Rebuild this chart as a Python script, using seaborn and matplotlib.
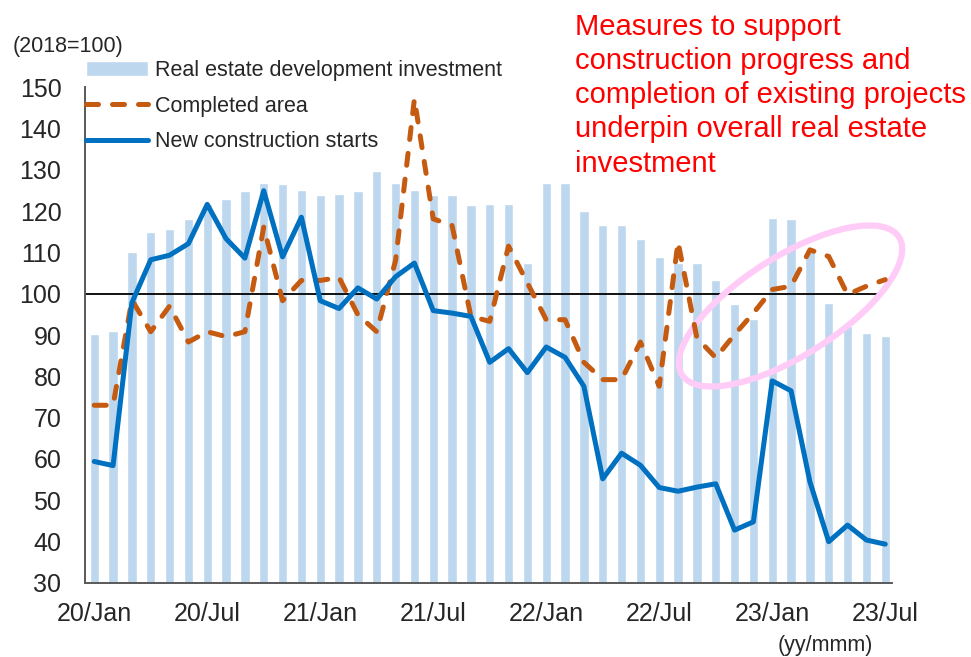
import matplotlib
matplotlib.use('Agg')
import matplotlib.pyplot as plt
import seaborn as sns
from matplotlib.patches import Ellipse

# monthly data, 2020/Jan - 2023/Jul (2018=100)
months = []
for yy in ['20', '21', '22', '23']:
    for mm in ['Jan', 'Feb', 'Mar', 'Apr', 'May', 'Jun', 'Jul', 'Aug', 'Sep', 'Oct', 'Nov', 'Dec']:
        months.append(yy + '/' + mm)
months = months[:43]

investment = [90.2, 90.9, 110.0, 114.9, 115.6, 118.0, 121.8, 123.0, 124.8, 126.7,
              126.6, 125.0, 123.8, 124.2, 124.8, 129.6, 126.7, 125.0, 123.9, 123.9,
              121.4, 121.6, 121.6, 107.4, 126.7, 126.7, 120.1, 116.5, 116.6, 113.3,
              108.9, 107.3, 107.3, 103.4, 97.6, 93.9, 118.3, 118.1, 110.6, 97.8,
              92.1, 90.4, 89.8]
completed = [73.0, 73.0, 98.5, 90.8, 97.0, 88.3, 90.8, 89.6, 90.8, 116.1,
             98.3, 103.2, 103.2, 103.9, 94.9, 90.8, 108.0, 147.1, 118.1, 116.5,
             94.5, 93.3, 111.5, 102.6, 93.7, 93.7, 83.4, 79.2, 79.2, 88.3,
             77.6, 112.5, 89.3, 84.5, 90.1, 95.3, 101.0, 101.8, 110.6, 109.0,
             99.8, 101.8, 103.4]
starts = [59.4, 58.4, 97.8, 108.2, 109.3, 112.1, 121.6, 113.3, 108.6, 124.9,
          108.9, 118.5, 98.3, 96.4, 101.4, 98.7, 104.1, 107.4, 95.9, 95.3,
          94.5, 83.4, 86.7, 80.9, 87.1, 84.6, 77.6, 55.2, 61.4, 58.5,
          53.1, 52.2, 53.2, 54.0, 42.8, 44.8, 78.9, 76.5, 54.5, 40.0,
          44.0, 40.4, 39.4]
idx = list(range(len(months)))

sns.set_style("white")
plt.rcParams['font.family'] = ['Liberation Sans', 'DejaVu Sans']

fig = plt.figure(figsize=(9.71, 6.57), dpi=100)
ax = fig.add_axes([85 / 971, 1 - 583 / 657, 807 / 971, 496 / 657])

sns.barplot(x=idx, y=investment, color='#BDD7EE', saturation=1, width=0.5,
            label='Real estate development investment', ax=ax, zorder=1)
ax.hlines(100, -0.5, 41.6, color='black', lw=1.3, zorder=2)

sns.lineplot(x=idx, y=completed, color='#C55A11', lw=3.6,
             label='Completed area', ax=ax, zorder=4)
dash_line = ax.lines[-1]
dash_line.set_dashes((2.4, 2.8))
dash_line.set_dash_capstyle('round')
sns.lineplot(x=idx, y=starts, color='#0070C0', lw=3.6,
             label='New construction starts', ax=ax, zorder=5)
ax.lines[-1].set_solid_capstyle('round')

ax.set_ylim(30, 150)
ax.set_xlim(-0.49, 42.36)
ax.set_yticks(range(30, 151, 10))
ax.set_xticks(range(0, 43, 6))
ax.set_xticklabels(months[::6])
ax.set_xticks([5.5 + 6 * k for k in range(7)], minor=True)
ax.tick_params(axis='y', direction='in', length=5, width=1, color='#595959',
               labelsize=18, pad=17)
ax.tick_params(axis='x', which='major', length=0, labelsize=18, pad=14)
ax.tick_params(axis='x', which='minor', direction='in', length=5, width=1, color='#595959')
ax.set_xlabel('')
ax.set_ylabel('')
for s in ['top', 'right']:
    ax.spines[s].set_visible(False)
for s in ['left', 'bottom']:
    ax.spines[s].set_color('#595959')
    ax.spines[s].set_linewidth(1.4)

handles, labels = ax.get_legend_handles_labels()
order = ['Real estate development investment', 'Completed area', 'New construction starts']
hmap = dict(zip(labels, handles))
ax.legend([hmap[l] for l in order], order, loc='upper left',
          bbox_to_anchor=(86 / 971, 1 - 60 / 657), bbox_transform=fig.transFigure,
          frameon=False, fontsize=15.5, handlelength=2.9, handletextpad=0.3,
          labelspacing=0.68, borderpad=0, borderaxespad=0)

# highlight ellipse
ax.add_patch(Ellipse((7.905, 3.51), 2.57, 0.99, angle=32.4, transform=fig.dpi_scale_trans,
                     fill=False, ec='#FFCCF7', lw=4.5, zorder=3, clip_on=False))

fig.text(13 / 971, 1 - 36 / 657, '(2018=100)', fontsize=15.5, va='top')
fig.text(778 / 971, 1 - 635 / 657, '(yy/mmm)', fontsize=15.5, va='top')
fig.text(575 / 971, 1 - 13 / 657,
         'Measures to support\nconstruction progress and\ncompletion of existing projects\n'
         'underpin overall real estate\ninvestment',
         color='red', fontsize=21, va='top', linespacing=1.28)

fig.savefig('out.png', dpi=100)
